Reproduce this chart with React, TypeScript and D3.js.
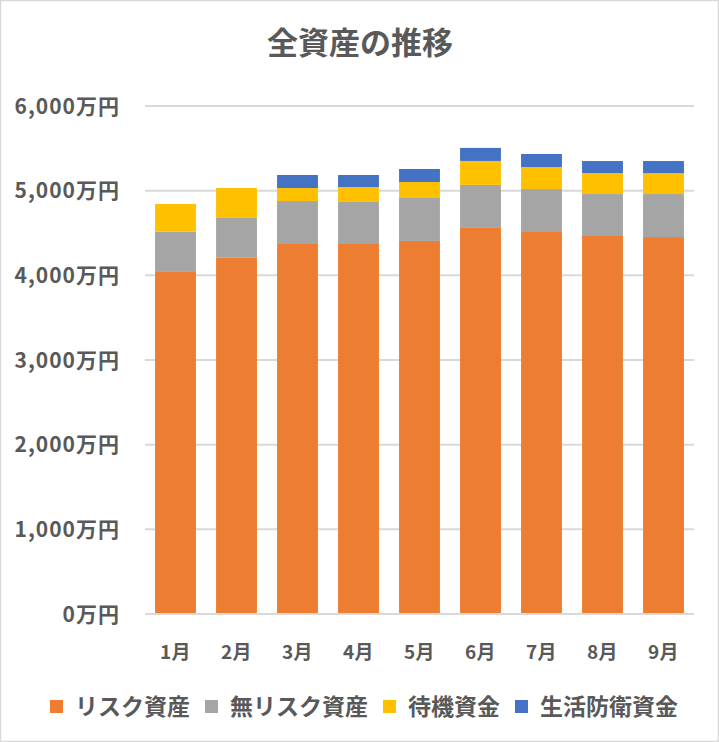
import React, { useEffect, useRef } from "react";
import * as d3 from "d3";

const months = ["1月", "2月", "3月", "4月", "5月", "6月", "7月", "8月", "9月"];
const seriesNames = ["リスク資産", "無リスク資産", "待機資金", "生活防衛資金"];
const riskAssets = [4040, 4208, 4370, 4370, 4406, 4560, 4512, 4465, 4452];
const riskFreeAssets = [475, 469, 508, 496, 507, 508, 508, 495, 508];
const standbyFunds = [327, 354, 153, 177, 189, 283, 259, 248, 248];
const emergencyFunds = [0, 0, 154, 142, 154, 154, 154, 142, 142];
const yTicks = [0, 1000, 2000, 3000, 4000, 5000, 6000];
const colors = ["#ED7D31", "#A5A5A5", "#FFC000", "#4472C4"];

const W = 719;
const H = 742;
const FONT = "'Noto Sans CJK JP', 'Noto Sans', sans-serif";
const TEXT = "#595959";

export default function App() {
  const ref = useRef<SVGSVGElement>(null);

  useEffect(() => {
    const svg = d3.select(ref.current);
    svg.selectAll("*").remove();

    svg.append("rect").attr("x", 0.5).attr("y", 0.5).attr("width", W - 1).attr("height", H - 1)
      .attr("fill", "#fff").attr("stroke", "#D9D9D9").attr("stroke-width", 1.5);

    const x = d3.scaleBand<string>().domain(months).range([145, 694]).paddingInner(0.33).paddingOuter(0.165);
    const y = d3.scaleLinear().domain([0, 6000]).range([614, 106]);

    // title
    svg.append("text").attr("x", 360).attr("y", 54).attr("text-anchor", "middle")
      .attr("font-family", FONT).attr("font-weight", "bold").attr("font-size", 31)
      .attr("fill", TEXT).text("全資産の推移");

    // gridlines
    svg.append("g").selectAll("line").data(yTicks).join("line")
      .attr("x1", 145).attr("x2", 694)
      .attr("y1", (d) => y(d)).attr("y2", (d) => y(d))
      .attr("stroke", "#D9D9D9").attr("stroke-width", 2);

    // y labels
    svg.append("g").selectAll("text").data(yTicks).join("text")
      .attr("x", 120).attr("y", (d) => y(d)).attr("dy", "0.36em")
      .attr("text-anchor", "end").attr("font-family", FONT).attr("font-weight", "bold")
      .attr("font-size", 21).attr("letter-spacing", 1).attr("fill", TEXT)
      .text((d) => d3.format(",")(d) + "万円");

    // stacked bars
    const rows = months.map((m, i) => ({
      month: m,
      s0: riskAssets[i],
      s1: riskFreeAssets[i],
      s2: standbyFunds[i],
      s3: emergencyFunds[i],
    }));
    const stack = d3.stack<any>().keys(["s0", "s1", "s2", "s3"]);
    const layers = stack(rows);
    svg.append("g").selectAll("g").data(layers).join("g")
      .attr("fill", (_d, i) => colors[i])
      .selectAll("rect").data((d) => d).join("rect")
      .attr("x", (d: any) => x(d.data.month)!)
      .attr("width", x.bandwidth())
      .attr("y", (d) => y(d[1]))
      .attr("height", (d) => Math.max(0, y(d[0]) - y(d[1])));

    // baseline
    svg.append("line").attr("x1", 145).attr("x2", 694).attr("y1", y(0)).attr("y2", y(0))
      .attr("stroke", "#D9D9D9").attr("stroke-width", 2);

    // x labels
    svg.append("g").selectAll("text").data(months).join("text")
      .attr("x", (d) => x(d)! + x.bandwidth() / 2).attr("y", 652).attr("dy", "0.36em")
      .attr("text-anchor", "middle").attr("font-family", FONT).attr("font-weight", "bold")
      .attr("font-size", 19).attr("letter-spacing", 0.5).attr("fill", TEXT).text((d) => d);

    // legend
    const lg = svg.append("g");
    const items = seriesNames.map((name, i) => {
      const g = lg.append("g");
      g.append("rect").attr("width", 13).attr("height", 13).attr("y", -7).attr("fill", colors[i]);
      const t = g.append("text").attr("x", 25).attr("y", 0).attr("dy", "0.36em")
        .attr("font-family", FONT).attr("font-weight", "bold").attr("font-size", 23)
        .attr("fill", TEXT).text(name);
      const w = 25 + (t.node() as SVGTextElement).getComputedTextLength();
      return { g, w };
    });
    const gap = 15;
    const total = items.reduce((a, b) => a + b.w, 0) + gap * (items.length - 1);
    let cx = 364 - total / 2;
    items.forEach((it) => {
      it.g.attr("transform", `translate(${cx},707)`);
      cx += it.w + gap;
    });
  }, []);

  return (
    <div style={{ position: "absolute", left: 0, top: 0 }}>
      <svg ref={ref} width={W} height={H} style={{ display: "block" }} />
    </div>
  );
}
